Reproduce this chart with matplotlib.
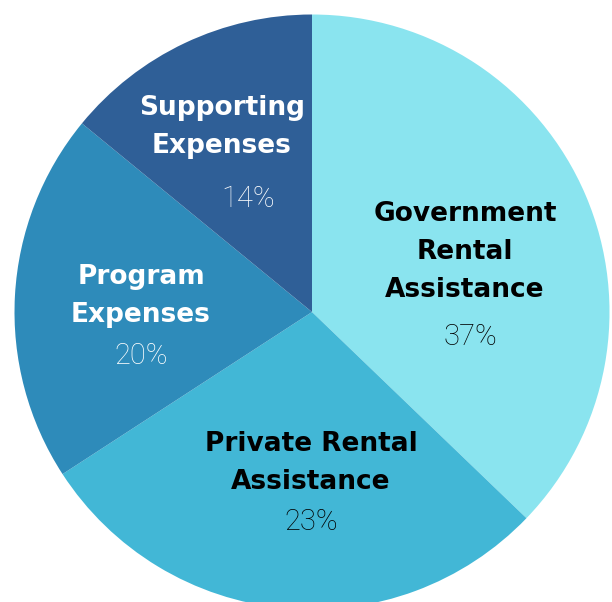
import matplotlib.pyplot as plt

# Data
categories = ['Government\nRental\nAssistance', 'Private Rental\nAssistance',
              'Program\nExpenses', 'Supporting\nExpenses']
shares = [37, 28.5, 20, 14]
pct_labels = ['37%', '23%', '20%', '14%']

colors = ['#8ae4ef', '#42b7d6', '#2e8bba', '#2f5f97']
text_colors = ['black', 'black', 'white', 'white']

# label anchor points in pixels (x, y from top)
name_pos = [(465, 252), (311, 463), (141, 296), (222, 127)]
pct_pos = [(470, 337), (311, 522), (141, 356), (248, 199)]

fig = plt.figure(figsize=(6.12, 6.02), dpi=100)
ax = fig.add_axes([0, 0, 1, 1])

ax.pie(shares, colors=colors, startangle=90, counterclock=False,
       center=(312, 602 - 312), radius=297.5)
ax.set_xlim(0, 612)
ax.set_ylim(0, 602)
ax.set_aspect('equal')
ax.axis('off')

for name, pct, c, npos, ppos in zip(categories, pct_labels, text_colors, name_pos, pct_pos):
    ax.text(npos[0], 602 - npos[1], name, ha='center', va='center', color=c,
            fontsize=19, fontweight='bold', family='DejaVu Sans', linespacing=1.6)
    ax.text(ppos[0], 602 - ppos[1], pct, ha='center', va='center', color=c,
            fontsize=21, fontweight='light', family='Roboto')

fig.savefig('out.png', dpi=100)
